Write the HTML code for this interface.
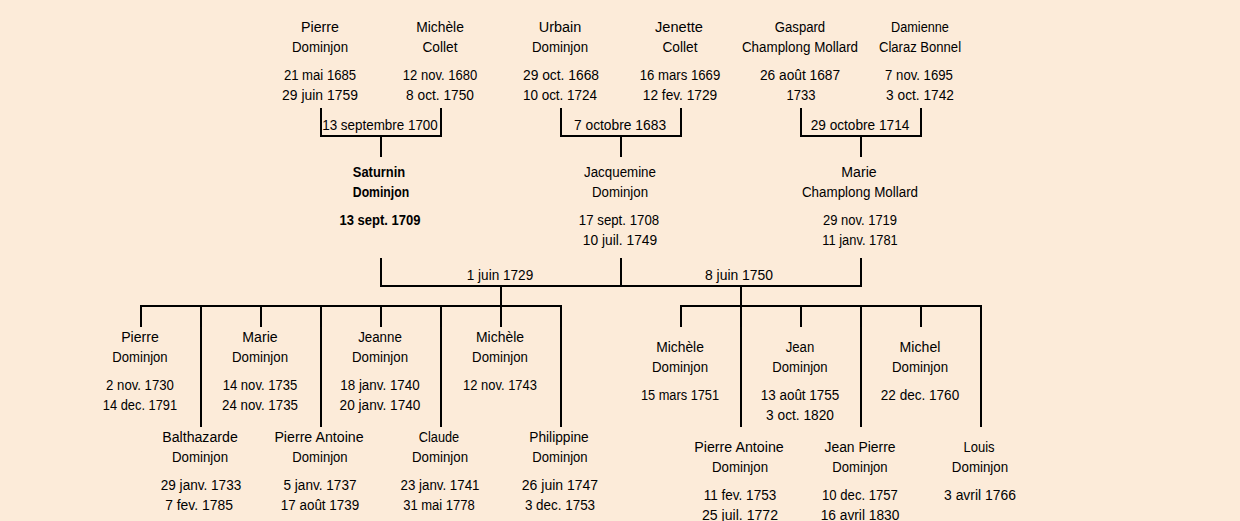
<!DOCTYPE html>
<html><head><meta charset="utf-8"><title>Saturnin Dominjon</title><style>
html,body{margin:0;padding:0;background:#FCEBD9;width:1240px;height:521px;overflow:hidden}
body{position:relative}
.t{position:absolute;width:200px;text-align:center;font-family:"Liberation Sans",sans-serif;font-size:14px;line-height:20px;height:20px;color:#000;white-space:nowrap;transform-origin:100px 50%}
.b{font-weight:bold}
.l{position:absolute;background:#000}
</style></head><body>
<div class="t" style="left:219.60px;top:17px;transform:scaleX(1.0143)">Pierre</div>
<div class="t" style="left:219.52px;top:37px;transform:scaleX(0.9475)">Dominjon</div>
<div class="t" style="left:219.76px;top:65px;transform:scaleX(0.9375)">21 mai 1685</div>
<div class="t" style="left:219.76px;top:85px;transform:scaleX(0.9936)">29 juin 1759</div>
<div class="t" style="left:339.92px;top:17px;transform:scaleX(0.9894)">Michèle</div>
<div class="t" style="left:340.24px;top:37px;transform:scaleX(0.9788)">Collet</div>
<div class="t" style="left:340.00px;top:65px;transform:scaleX(0.9304)">12 nov. 1680</div>
<div class="t" style="left:339.84px;top:85px;transform:scaleX(0.9782)">8 oct. 1750</div>
<div class="t" style="left:459.68px;top:17px;transform:scaleX(1.0322)">Urbain</div>
<div class="t" style="left:459.52px;top:37px;transform:scaleX(0.9475)">Dominjon</div>
<div class="t" style="left:460.80px;top:65px;transform:scaleX(0.9869)">29 oct. 1668</div>
<div class="t" style="left:460.48px;top:85px;transform:scaleX(0.9634)">10 oct. 1724</div>
<div class="t" style="left:579.44px;top:17px;transform:scaleX(1.0440)">Jenette</div>
<div class="t" style="left:580.24px;top:37px;transform:scaleX(0.9788)">Collet</div>
<div class="t" style="left:580.00px;top:65px;transform:scaleX(0.9405)">16 mars 1669</div>
<div class="t" style="left:580.00px;top:85px;transform:scaleX(0.9800)">12 fev. 1729</div>
<div class="t" style="left:700.00px;top:17px;transform:scaleX(0.9376)">Gaspard</div>
<div class="t" style="left:699.52px;top:37px;transform:scaleX(0.9563)">Champlong Mollard</div>
<div class="t" style="left:700.00px;top:65px;transform:scaleX(0.9813)">26 août 1687</div>
<div class="t" style="left:700.72px;top:85px;transform:scaleX(0.9315)">1733</div>
<div class="t" style="left:819.68px;top:17px;transform:scaleX(0.9073)">Damienne</div>
<div class="t" style="left:820.48px;top:37px;transform:scaleX(0.9333)">Claraz Bonnel</div>
<div class="t" style="left:818.64px;top:65px;transform:scaleX(0.9402)">7 nov. 1695</div>
<div class="t" style="left:820.08px;top:85px;transform:scaleX(0.9781)">3 oct. 1742</div>
<div class="t b" style="left:279.36px;top:162px;transform:scaleX(0.9242)">Saturnin</div>
<div class="t b" style="left:280.80px;top:182px;transform:scaleX(0.8731)">Dominjon</div>
<div class="t b" style="left:280.48px;top:210px;transform:scaleX(0.9302)">13 sept. 1709</div>
<div class="t" style="left:520.00px;top:162px;transform:scaleX(0.9528)">Jacquemine</div>
<div class="t" style="left:519.52px;top:182px;transform:scaleX(0.9475)">Dominjon</div>
<div class="t" style="left:519.36px;top:210px;transform:scaleX(0.9458)">17 sept. 1708</div>
<div class="t" style="left:520.32px;top:230px;transform:scaleX(0.9832)">10 juil. 1749</div>
<div class="t" style="left:759.20px;top:162px;transform:scaleX(1.0079)">Marie</div>
<div class="t" style="left:759.84px;top:182px;transform:scaleX(0.9563)">Champlong Mollard</div>
<div class="t" style="left:760.24px;top:210px;transform:scaleX(0.9273)">29 nov. 1719</div>
<div class="t" style="left:760.24px;top:230px;transform:scaleX(0.9198)">11 janv. 1781</div>
<div class="t" style="left:39.84px;top:327px;transform:scaleX(1.0070)">Pierre</div>
<div class="t" style="left:40.08px;top:347px;transform:scaleX(0.9343)">Dominjon</div>
<div class="t" style="left:40.40px;top:375px;transform:scaleX(0.9402)">2 nov. 1730</div>
<div class="t" style="left:40.00px;top:395px;transform:scaleX(0.9177)">14 dec. 1791</div>
<div class="t" style="left:159.84px;top:327px;transform:scaleX(1.0079)">Marie</div>
<div class="t" style="left:159.92px;top:347px;transform:scaleX(0.9474)">Dominjon</div>
<div class="t" style="left:160.00px;top:375px;transform:scaleX(0.9336)">14 nov. 1735</div>
<div class="t" style="left:160.32px;top:395px;transform:scaleX(0.9494)">24 nov. 1735</div>
<div class="t" style="left:280.32px;top:327px;transform:scaleX(0.9517)">Jeanne</div>
<div class="t" style="left:279.52px;top:347px;transform:scaleX(0.9475)">Dominjon</div>
<div class="t" style="left:279.52px;top:375px;transform:scaleX(0.9569)">18 janv. 1740</div>
<div class="t" style="left:280.00px;top:395px;transform:scaleX(0.9726)">20 janv. 1740</div>
<div class="t" style="left:400.16px;top:327px;transform:scaleX(0.9948)">Michèle</div>
<div class="t" style="left:400.24px;top:347px;transform:scaleX(0.9430)">Dominjon</div>
<div class="t" style="left:399.52px;top:375px;transform:scaleX(0.9241)">12 nov. 1743</div>
<div class="t" style="left:100.24px;top:427px;transform:scaleX(1.0103)">Balthazarde</div>
<div class="t" style="left:99.52px;top:447px;transform:scaleX(0.9475)">Dominjon</div>
<div class="t" style="left:100.80px;top:475px;transform:scaleX(0.9695)">29 janv. 1733</div>
<div class="t" style="left:99.20px;top:495px;transform:scaleX(0.9926)">7 fev. 1785</div>
<div class="t" style="left:219.44px;top:427px;transform:scaleX(1.0144)">Pierre Antoine</div>
<div class="t" style="left:220.08px;top:447px;transform:scaleX(0.9343)">Dominjon</div>
<div class="t" style="left:219.52px;top:475px;transform:scaleX(0.9696)">5 janv. 1737</div>
<div class="t" style="left:219.52px;top:495px;transform:scaleX(0.9594)">17 août 1739</div>
<div class="t" style="left:339.44px;top:427px;transform:scaleX(0.9093)">Claude</div>
<div class="t" style="left:339.52px;top:447px;transform:scaleX(0.9475)">Dominjon</div>
<div class="t" style="left:340.32px;top:475px;transform:scaleX(0.9512)">23 janv. 1741</div>
<div class="t" style="left:338.88px;top:495px;transform:scaleX(0.9310)">31 mai 1778</div>
<div class="t" style="left:459.28px;top:427px;transform:scaleX(0.9788)">Philippine</div>
<div class="t" style="left:460.08px;top:447px;transform:scaleX(0.9343)">Dominjon</div>
<div class="t" style="left:460.32px;top:475px;transform:scaleX(1.0003)">26 juin 1747</div>
<div class="t" style="left:460.32px;top:495px;transform:scaleX(0.9585)">3 dec. 1753</div>
<div class="t" style="left:580.08px;top:337px;transform:scaleX(0.9895)">Michèle</div>
<div class="t" style="left:579.52px;top:357px;transform:scaleX(0.9475)">Dominjon</div>
<div class="t" style="left:580.32px;top:385px;transform:scaleX(0.9137)">15 mars 1751</div>
<div class="t" style="left:700.32px;top:337px;transform:scaleX(0.9417)">Jean</div>
<div class="t" style="left:700.08px;top:357px;transform:scaleX(0.9343)">Dominjon</div>
<div class="t" style="left:700.40px;top:385px;transform:scaleX(0.9626)">13 août 1755</div>
<div class="t" style="left:699.84px;top:405px;transform:scaleX(0.9782)">3 oct. 1820</div>
<div class="t" style="left:820.16px;top:337px;transform:scaleX(1.0070)">Michel</div>
<div class="t" style="left:819.92px;top:357px;transform:scaleX(0.9474)">Dominjon</div>
<div class="t" style="left:820.16px;top:385px;transform:scaleX(0.9688)">22 dec. 1760</div>
<div class="t" style="left:639.20px;top:437px;transform:scaleX(1.0173)">Pierre Antoine</div>
<div class="t" style="left:639.52px;top:457px;transform:scaleX(0.9475)">Dominjon</div>
<div class="t" style="left:640.16px;top:485px;transform:scaleX(0.9659)">11 fev. 1753</div>
<div class="t" style="left:640.40px;top:505px;transform:scaleX(1.0068)">25 juil. 1772</div>
<div class="t" style="left:759.68px;top:437px;transform:scaleX(0.9929)">Jean Pierre</div>
<div class="t" style="left:760.08px;top:457px;transform:scaleX(0.9343)">Dominjon</div>
<div class="t" style="left:760.16px;top:485px;transform:scaleX(0.9368)">10 dec. 1757</div>
<div class="t" style="left:760.40px;top:505px;transform:scaleX(0.9811)">16 avril 1830</div>
<div class="t" style="left:878.88px;top:437px;transform:scaleX(0.9305)">Louis</div>
<div class="t" style="left:879.68px;top:457px;transform:scaleX(0.9518)">Dominjon</div>
<div class="t" style="left:879.68px;top:485px;transform:scaleX(0.9932)">3 avril 1766</div>
<div class="t" style="left:279.60px;top:115px;transform:scaleX(0.9580)">13 septembre 1700</div>
<div class="t" style="left:519.52px;top:115px;transform:scaleX(0.9865)">7 octobre 1683</div>
<div class="t" style="left:759.68px;top:115px;transform:scaleX(0.9750)">29 octobre 1714</div>
<div class="t" style="left:400.16px;top:265px;transform:scaleX(0.9702)">1 juin 1729</div>
<div class="t" style="left:639.04px;top:265px;transform:scaleX(0.9928)">8 juin 1750</div>
<div class="l" style="left:320px;top:108px;width:2px;height:29px"></div>
<div class="l" style="left:440px;top:108px;width:2px;height:29px"></div>
<div class="l" style="left:320px;top:135px;width:122px;height:2px"></div>
<div class="l" style="left:380px;top:137px;width:2px;height:20px"></div>
<div class="l" style="left:560px;top:108px;width:2px;height:29px"></div>
<div class="l" style="left:680px;top:108px;width:2px;height:29px"></div>
<div class="l" style="left:560px;top:135px;width:122px;height:2px"></div>
<div class="l" style="left:620px;top:137px;width:2px;height:20px"></div>
<div class="l" style="left:800px;top:108px;width:2px;height:29px"></div>
<div class="l" style="left:920px;top:108px;width:2px;height:29px"></div>
<div class="l" style="left:800px;top:135px;width:122px;height:2px"></div>
<div class="l" style="left:860px;top:137px;width:2px;height:20px"></div>
<div class="l" style="left:380px;top:258px;width:2px;height:29px"></div>
<div class="l" style="left:620px;top:258px;width:2px;height:29px"></div>
<div class="l" style="left:860px;top:258px;width:2px;height:29px"></div>
<div class="l" style="left:380px;top:285px;width:482px;height:2px"></div>
<div class="l" style="left:500px;top:287px;width:2px;height:18px"></div>
<div class="l" style="left:740px;top:287px;width:2px;height:18px"></div>
<div class="l" style="left:140px;top:305px;width:422px;height:2px"></div>
<div class="l" style="left:140px;top:307px;width:2px;height:20px"></div>
<div class="l" style="left:260px;top:307px;width:2px;height:20px"></div>
<div class="l" style="left:380px;top:307px;width:2px;height:20px"></div>
<div class="l" style="left:500px;top:307px;width:2px;height:20px"></div>
<div class="l" style="left:200px;top:307px;width:2px;height:120px"></div>
<div class="l" style="left:320px;top:307px;width:2px;height:120px"></div>
<div class="l" style="left:440px;top:307px;width:2px;height:120px"></div>
<div class="l" style="left:560px;top:307px;width:2px;height:120px"></div>
<div class="l" style="left:680px;top:305px;width:302px;height:2px"></div>
<div class="l" style="left:680px;top:307px;width:2px;height:20px"></div>
<div class="l" style="left:800px;top:307px;width:2px;height:20px"></div>
<div class="l" style="left:920px;top:307px;width:2px;height:20px"></div>
<div class="l" style="left:740px;top:307px;width:2px;height:120px"></div>
<div class="l" style="left:860px;top:307px;width:2px;height:120px"></div>
<div class="l" style="left:980px;top:307px;width:2px;height:120px"></div>
</body></html>
